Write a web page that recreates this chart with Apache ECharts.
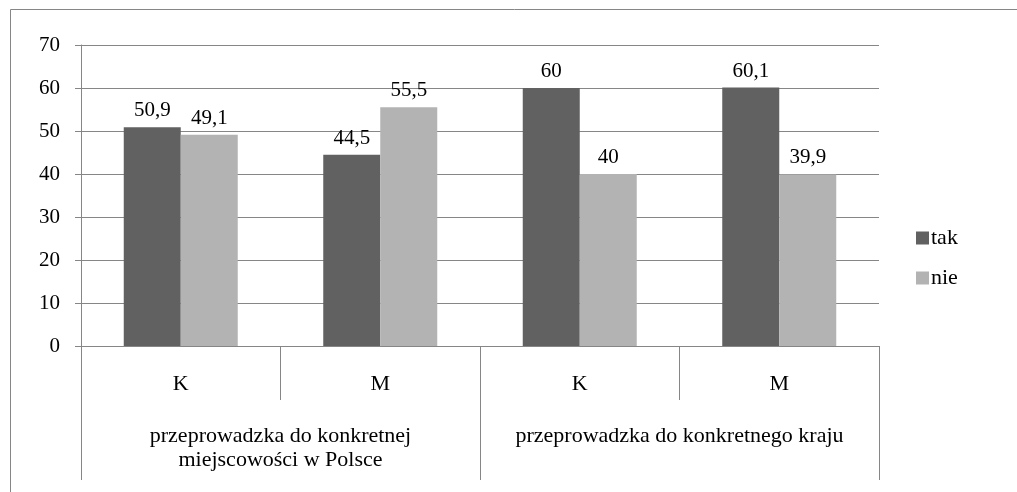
<!DOCTYPE html>
<html>
<head>
<meta charset="utf-8">
<script src="https://cdn.jsdelivr.net/npm/echarts@6/dist/echarts.min.js"></script>
<style>
  html, body { margin: 0; padding: 0; background: #fff; }
  #chart { width: 1017px; height: 492px; }
</style>
</head>
<body>
<div id="chart"></div>
<script>
var subCats = ['K', 'M', 'K', 'M'];
var groupCats = ['przeprowadzka do konkretnej\nmiejscowości w Polsce', 'przeprowadzka do konkretnego kraju'];
var takValues = [50.9, 44.5, 60, 60.1];
var nieValues = [49.1, 55.5, 40, 39.9];

var font = '"Liberation Serif", "Times New Roman", serif';
var gray = '#868686';

var chart = echarts.init(document.getElementById('chart'));

var valueLabel = {
    show: true,
    position: 'top',
    distance: 6,
    color: '#000',
    fontFamily: font,
    fontSize: 21,
    formatter: function (p) { return String(p.value).replace('.', ','); }
};

chart.setOption({
    backgroundColor: '#fff',
    animation: false,
    textStyle: { fontFamily: font },
    graphic: [{
        type: 'rect',
        shape: { x: 10.5, y: 9.5, width: 1200, height: 700 },
        style: { fill: 'none', stroke: gray, lineWidth: 1 },
        silent: true
    }],
    grid: { left: 81, right: 138, top: 45, bottom: 146 },
    legend: {
        orient: 'vertical',
        left: 911,
        top: 222,
        itemWidth: 13,
        itemHeight: 13,
        itemGap: 18,
        icon: 'rect',
        textStyle: { fontFamily: font, fontSize: 22, color: '#000', padding: [0, 0, 0, -3] },
        data: ['tak', 'nie']
    },
    xAxis: [{
        type: 'category',
        data: subCats,
        axisLine: { lineStyle: { color: gray, width: 1 } },
        axisTick: { show: true, length: 54, interval: 0, lineStyle: { color: gray } },
        axisLabel: { color: '#000', fontFamily: font, fontSize: 22, margin: 27, interval: 0 }
    }, {
        type: 'category',
        data: groupCats,
        position: 'bottom',
        axisLine: { show: false },
        axisTick: { show: true, length: 134, interval: 0, lineStyle: { color: gray } },
        axisLabel: { color: '#000', fontFamily: font, fontSize: 22, margin: 78, lineHeight: 24, interval: 0 }
    }],
    yAxis: {
        type: 'value',
        min: 0,
        max: 70,
        interval: 10,
        axisLine: { show: true, lineStyle: { color: gray } },
        axisTick: { show: true, length: 6, lineStyle: { color: gray } },
        axisLabel: { color: '#000', fontFamily: font, fontSize: 21, margin: 21 },
        splitLine: { lineStyle: { color: gray, width: 1 } }
    },
    series: [{
        name: 'tak',
        type: 'bar',
        data: takValues,
        barWidth: 57,
        barGap: '0%',
        itemStyle: { color: '#616161' },
        label: valueLabel
    }, {
        name: 'nie',
        type: 'bar',
        data: nieValues,
        barWidth: 57,
        barGap: '0%',
        itemStyle: { color: '#b3b3b3' },
        label: valueLabel
    }]
});
</script>
</body>
</html>
